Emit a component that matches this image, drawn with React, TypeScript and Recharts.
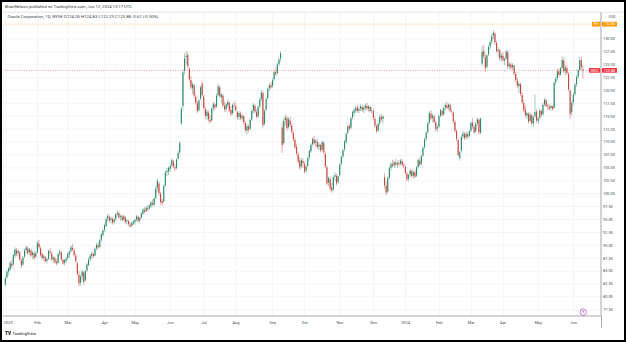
import { ComposedChart, Bar, XAxis, YAxis, CartesianGrid, ReferenceLine, ReferenceDot } from 'recharts'

// daily candles, [open, high, low, close], one array per month
const jan23 = [
  [82.4, 84.0, 82.1, 83.6], [83.8, 85.2, 83.5, 84.9], [84.9, 85.8, 84.2, 85.5], [85.3, 86.9, 85.0, 86.6],
  [86.4, 87.2, 85.6, 86.0], [86.3, 88.4, 86.1, 88.1], [88.0, 89.6, 87.6, 89.2], [89.0, 89.5, 87.9, 88.3],
  [88.5, 89.3, 87.8, 88.9], [88.6, 88.9, 86.9, 87.2], [87.0, 87.4, 85.6, 86.1], [86.3, 87.9, 86.0, 87.6],
  [87.8, 89.4, 87.5, 89.0], [89.1, 89.9, 88.4, 89.6], [89.4, 89.8, 88.2, 88.5], [88.7, 89.5, 88.1, 89.2],
  [89.0, 89.3, 87.7, 88.0], [88.1, 88.9, 87.3, 88.6], [88.4, 88.8, 87.2, 87.6], [87.8, 88.9, 87.5, 88.5],
]
const feb23 = [
  [88.6, 90.8, 88.4, 90.5], [90.3, 91.0, 89.2, 89.6], [89.4, 89.8, 87.8, 88.1], [88.3, 88.6, 87.2, 87.5],
  [87.6, 88.2, 86.9, 87.9], [87.7, 88.0, 86.6, 86.9], [87.0, 87.6, 86.5, 87.3], [87.4, 89.2, 87.1, 88.9],
  [88.8, 89.5, 88.2, 88.6], [88.4, 88.8, 87.0, 87.2], [87.3, 87.9, 86.6, 87.6], [87.5, 87.8, 86.4, 86.7],
  [86.8, 87.3, 86.1, 86.5], [86.6, 88.6, 86.4, 88.3], [88.4, 89.2, 87.9, 88.8], [88.6, 88.9, 87.0, 87.3],
  [87.2, 87.5, 86.2, 86.5], [86.6, 87.4, 86.1, 87.1], [87.0, 87.8, 86.5, 87.4],
]
const mar23 = [
  [87.5, 88.6, 87.2, 88.3], [88.2, 89.0, 87.6, 88.8], [88.9, 90.0, 88.5, 89.6], [89.5, 90.3, 88.9, 89.2],
  [89.0, 89.4, 87.8, 88.1], [88.0, 88.4, 86.6, 86.9], [86.5, 86.8, 84.1, 84.5], [84.3, 85.0, 82.0, 82.6],
  [82.8, 84.3, 82.2, 83.9], [84.0, 85.3, 83.3, 84.9], [84.7, 85.0, 82.4, 82.9], [83.2, 85.2, 83.0, 85.0],
  [85.1, 86.6, 84.8, 86.3], [86.2, 87.6, 85.9, 87.2], [87.3, 88.3, 86.9, 88.0], [87.9, 88.8, 87.4, 88.4],
  [88.3, 88.6, 87.5, 87.9], [88.0, 89.6, 87.8, 89.3], [89.4, 90.4, 89.0, 90.1], [90.0, 90.6, 89.2, 89.6],
  [89.7, 91.3, 89.5, 91.0], [91.1, 92.4, 90.7, 92.1], [92.0, 93.1, 91.6, 92.9],
]
const apr23 = [
  [93.0, 94.2, 92.6, 93.9], [93.8, 95.4, 93.5, 95.1], [95.2, 96.1, 94.6, 95.7], [95.5, 95.9, 94.4, 94.8],
  [94.9, 95.6, 94.3, 95.2], [95.1, 95.5, 94.0, 94.4], [94.5, 95.3, 94.1, 95.0], [95.1, 96.2, 94.8, 96.0],
  [96.0, 96.8, 95.5, 96.3], [96.2, 96.5, 95.1, 95.4], [95.5, 96.0, 94.8, 95.7], [95.6, 95.9, 94.6, 94.9],
  [95.0, 95.9, 94.7, 95.6], [95.4, 95.7, 94.2, 94.5], [94.6, 95.1, 94.0, 94.8], [94.7, 95.0, 93.8, 94.1],
  [94.0, 94.5, 93.4, 93.7], [93.8, 94.6, 93.5, 94.3], [94.2, 94.9, 93.9, 94.6],
]
const may23 = [
  [94.5, 95.2, 94.0, 94.9], [95.0, 95.9, 94.6, 95.6], [95.5, 95.8, 94.4, 94.7], [94.8, 95.5, 94.3, 95.3],
  [95.4, 96.4, 95.1, 96.2], [96.1, 97.2, 95.9, 96.9], [96.8, 97.3, 96.2, 96.5], [96.6, 97.6, 96.4, 97.3],
  [97.2, 97.8, 96.6, 97.0], [97.1, 98.0, 96.8, 97.7], [97.6, 98.6, 97.2, 98.3], [98.2, 98.9, 97.5, 97.9],
  [97.8, 99.4, 97.6, 99.1], [99.2, 101.4, 98.9, 101.0], [101.2, 103.0, 100.4, 102.5], [102.0, 102.3, 99.6, 100.1],
  [100.0, 100.4, 97.9, 98.4], [98.6, 99.0, 97.6, 98.2], [98.5, 101.8, 98.3, 101.5], [101.6, 104.5, 101.3, 104.1],
  [104.2, 105.0, 103.4, 104.4], [104.3, 105.2, 103.6, 105.0],
]
const jun23 = [
  [104.8, 105.9, 104.2, 105.4], [105.6, 106.8, 105.1, 106.5], [106.2, 106.6, 104.9, 105.3], [105.1, 105.7, 104.3, 104.9],
  [105.0, 106.9, 104.7, 106.6], [106.8, 108.3, 106.4, 107.9], [108.0, 110.2, 107.6, 109.8], [113.6, 116.9, 113.2, 116.4],
  [117.0, 124.0, 116.3, 123.5], [123.8, 127.2, 123.1, 126.2], [126.5, 127.6, 125.0, 126.7], [126.9, 127.4, 124.3, 124.7],
  [124.2, 124.5, 121.6, 122.1], [122.0, 122.8, 120.2, 120.6], [120.4, 121.6, 119.3, 121.2], [121.0, 121.3, 118.6, 119.0],
  [118.8, 119.4, 117.2, 117.6], [117.5, 118.1, 115.6, 116.0], [116.2, 118.4, 115.9, 118.0], [118.4, 120.9, 118.1, 120.6],
  [121.3, 121.8, 118.8, 119.1],
]
const jul23 = [
  [118.8, 119.2, 116.3, 116.6], [116.4, 116.9, 114.6, 115.1], [115.0, 116.3, 114.2, 115.9], [115.7, 116.1, 113.9, 114.4],
  [114.3, 115.2, 113.5, 114.0], [114.2, 116.8, 114.0, 116.5], [116.6, 117.8, 116.0, 117.4], [117.3, 117.6, 116.2, 116.7],
  [116.9, 119.4, 116.6, 119.0], [119.1, 121.3, 118.8, 120.8], [120.6, 121.0, 118.5, 118.9], [118.7, 119.5, 117.6, 119.2],
  [119.0, 119.3, 116.8, 117.1], [117.0, 117.9, 115.9, 116.3], [116.4, 117.6, 115.8, 117.3], [117.2, 118.2, 116.7, 117.8],
  [117.6, 117.9, 115.8, 116.1], [116.2, 117.0, 115.0, 115.4], [115.6, 117.5, 115.3, 117.2], [117.1, 118.0, 116.5, 117.0],
]
const aug23 = [
  [116.9, 117.6, 115.9, 116.2], [115.8, 116.1, 114.4, 114.8], [114.9, 116.0, 114.3, 115.6], [115.5, 115.9, 114.2, 114.6],
  [114.6, 115.4, 114.0, 115.1], [115.0, 115.3, 113.4, 113.8], [113.7, 114.1, 111.8, 112.3], [112.2, 113.5, 111.4, 113.1],
  [113.0, 113.4, 111.9, 112.4], [112.6, 114.6, 112.3, 114.3], [114.4, 116.3, 114.1, 116.0], [116.1, 117.6, 115.6, 117.2],
  [117.0, 117.3, 115.5, 115.9], [115.8, 116.4, 114.6, 114.9], [115.0, 117.1, 114.7, 116.8], [116.9, 118.6, 116.5, 118.2],
  [118.3, 120.1, 117.9, 119.6], [119.5, 119.9, 112.8, 113.3], [113.6, 116.4, 113.2, 116.0], [116.3, 118.7, 116.0, 118.3],
  [118.5, 120.6, 118.2, 120.3], [120.4, 121.4, 119.9, 121.0], [121.0, 121.7, 120.3, 120.6],
]
const sep23 = [
  [120.9, 122.4, 120.5, 122.0], [122.2, 123.9, 121.9, 123.5], [123.6, 124.4, 122.8, 123.2], [123.4, 125.4, 123.1, 125.0],
  [125.1, 126.4, 124.7, 126.0], [126.2, 127.6, 125.6, 127.2], [112.8, 113.8, 107.9, 109.4], [109.8, 114.6, 109.5, 114.1],
  [114.3, 115.3, 113.1, 114.8], [114.6, 115.1, 112.2, 112.7], [112.9, 114.8, 112.6, 114.4], [114.2, 114.9, 112.9, 113.3],
  [113.2, 113.6, 111.6, 112.0], [111.8, 112.2, 110.1, 110.5], [110.4, 110.9, 108.6, 109.0], [109.1, 109.7, 107.4, 107.8],
  [107.6, 108.1, 105.8, 106.2], [106.4, 107.1, 104.6, 105.1], [105.3, 106.9, 104.9, 106.5], [106.3, 106.8, 105.0, 105.9],
]
const oct23 = [
  [105.7, 106.2, 103.9, 104.3], [104.5, 105.6, 104.0, 105.2], [105.4, 107.2, 105.1, 106.9], [107.0, 108.6, 106.6, 108.3],
  [108.2, 109.8, 107.9, 109.5], [109.6, 110.9, 109.2, 110.6], [110.5, 111.2, 109.4, 109.8], [109.9, 110.6, 109.0, 110.2],
  [110.0, 110.4, 108.6, 109.0], [109.1, 109.9, 108.3, 109.5], [109.4, 109.7, 108.0, 108.4], [108.5, 110.3, 108.2, 110.0],
  [109.8, 110.2, 107.6, 108.0], [107.7, 108.0, 104.9, 105.3], [105.1, 105.5, 101.6, 102.0], [102.2, 103.4, 101.5, 103.0],
  [102.8, 103.2, 100.6, 101.0], [101.2, 102.1, 100.2, 100.6], [100.8, 103.5, 100.5, 103.2], [103.3, 104.1, 102.5, 103.6],
  [103.4, 103.9, 101.6, 102.0], [102.3, 103.6, 101.9, 103.4],
]
const nov23 = [
  [103.6, 105.9, 103.4, 105.6], [105.8, 107.4, 105.5, 107.1], [107.2, 108.7, 106.9, 108.4], [108.6, 110.4, 108.2, 110.1],
  [110.0, 111.9, 109.7, 111.6], [111.8, 113.3, 111.5, 113.0], [113.1, 113.6, 112.2, 112.6], [112.8, 114.9, 112.5, 114.6],
  [114.8, 116.1, 114.4, 115.8], [115.7, 116.5, 115.0, 116.2], [116.1, 117.0, 115.6, 116.6], [116.7, 117.1, 115.7, 116.0],
  [116.1, 116.8, 115.5, 116.4], [116.5, 117.3, 116.0, 116.9], [116.8, 117.2, 115.9, 116.2], [116.3, 116.9, 115.6, 116.7],
  [116.6, 117.4, 116.1, 117.1], [117.0, 117.6, 116.2, 116.5], [116.4, 117.2, 115.9, 116.9], [116.8, 117.1, 115.7, 116.0],
  [116.1, 116.9, 115.6, 116.2],
]
const dec23 = [
  [116.0, 116.4, 114.3, 114.7], [114.5, 114.9, 112.8, 113.2], [113.1, 113.5, 111.7, 112.1], [112.3, 113.8, 112.0, 113.5],
  [113.6, 115.3, 113.2, 114.9], [114.8, 115.5, 114.0, 114.4], [114.5, 115.2, 113.6, 115.0], [103.2, 104.0, 101.0, 101.6],
  [101.5, 102.3, 99.6, 100.2], [100.4, 103.4, 100.1, 103.0], [103.1, 105.3, 102.8, 104.9], [105.0, 106.1, 104.4, 105.8],
  [105.7, 106.6, 105.1, 105.4], [105.5, 106.4, 105.0, 106.1], [106.0, 106.7, 105.2, 105.6], [105.7, 106.3, 105.0, 106.0],
  [105.9, 106.5, 105.3, 105.7], [105.8, 106.8, 105.5, 106.4], [106.3, 106.7, 105.2, 105.6], [105.6, 106.0, 104.9, 105.4],
]
const jan24 = [
  [105.2, 105.5, 103.6, 104.0], [103.9, 104.3, 102.4, 102.8], [102.9, 103.9, 102.3, 103.6], [103.7, 104.8, 103.3, 104.5],
  [104.4, 104.7, 103.1, 103.4], [103.5, 104.5, 102.9, 104.2], [104.1, 104.6, 103.0, 103.3], [103.5, 105.4, 103.2, 105.1],
  [105.2, 106.8, 104.9, 106.5], [106.4, 106.9, 105.2, 105.6], [105.8, 107.6, 105.5, 107.3], [107.4, 109.2, 107.1, 108.9],
  [109.0, 110.8, 108.6, 110.5], [110.6, 112.1, 110.2, 111.8], [111.9, 114.0, 111.6, 113.6], [113.7, 116.0, 113.4, 115.6],
  [115.5, 116.2, 114.2, 114.6], [114.7, 115.5, 113.8, 115.1], [115.0, 115.3, 113.6, 113.9], [113.8, 114.2, 112.1, 112.5],
  [112.6, 113.4, 111.9, 112.9],
]
const feb24 = [
  [113.0, 115.3, 112.7, 115.0], [115.1, 116.5, 114.8, 116.2], [116.0, 116.4, 114.9, 115.3], [115.4, 116.9, 115.1, 116.6],
  [116.7, 117.6, 116.1, 117.2], [117.1, 117.8, 116.3, 116.6], [116.7, 117.5, 116.2, 117.3], [117.2, 117.4, 115.8, 116.1],
  [116.0, 116.5, 115.3, 115.9], [115.7, 115.9, 113.6, 114.0], [113.9, 114.2, 111.8, 112.2], [112.1, 112.5, 110.2, 110.6],
  [110.4, 110.7, 107.2, 107.5], [106.9, 108.3, 106.4, 108.0], [108.3, 111.4, 108.1, 111.0], [111.1, 112.2, 110.6, 111.7],
  [111.6, 112.0, 110.4, 110.8], [110.9, 112.0, 110.5, 111.6], [111.5, 111.9, 110.6, 111.1], [111.2, 112.4, 110.9, 112.1],
]
const mar24 = [
  [112.2, 114.0, 111.9, 113.7], [113.8, 114.6, 112.6, 113.0], [112.9, 113.3, 111.5, 111.9], [112.1, 113.9, 111.8, 113.6],
  [113.7, 114.7, 113.2, 114.4], [114.3, 114.6, 111.4, 111.9], [111.8, 114.8, 111.5, 114.5], [125.2, 128.6, 124.8, 127.5],
  [127.6, 128.9, 126.2, 126.6], [126.4, 126.9, 123.6, 124.4], [124.6, 127.1, 124.2, 126.8], [127.0, 128.8, 126.6, 128.4],
  [128.5, 129.8, 128.0, 129.4], [129.5, 130.9, 129.0, 130.5], [130.6, 131.7, 130.0, 131.2], [131.0, 131.3, 128.9, 129.3],
  [129.2, 129.6, 127.3, 127.6], [127.7, 128.4, 126.5, 127.9], [127.8, 128.0, 125.8, 126.2], [126.3, 127.2, 125.6, 126.8],
]
const apr24 = [
  [126.7, 127.4, 125.5, 125.9], [125.8, 126.4, 124.9, 126.1], [126.2, 127.9, 125.9, 127.5], [127.4, 127.8, 124.2, 124.6],
  [124.7, 125.5, 124.1, 125.1], [125.0, 125.4, 124.0, 124.4], [124.5, 125.3, 123.9, 124.9], [124.8, 125.0, 122.9, 123.3],
  [123.2, 123.6, 121.6, 122.0], [121.9, 122.5, 120.4, 120.9], [120.8, 121.7, 119.5, 121.3], [121.2, 121.5, 118.9, 119.3],
  [119.1, 119.6, 117.3, 117.7], [117.6, 118.2, 115.8, 116.2], [116.3, 117.1, 114.8, 115.2], [115.1, 115.9, 114.4, 115.6],
  [115.5, 115.8, 113.6, 114.0], [114.1, 115.7, 113.8, 115.3], [115.2, 115.5, 113.2, 113.6], [113.6, 115.1, 112.9, 114.8],
  [115.0, 119.2, 114.7, 115.8], [115.9, 116.3, 113.7, 114.2],
]
const may24 = [
  [114.1, 114.9, 113.5, 114.6], [114.7, 116.4, 114.4, 116.1], [116.0, 116.3, 114.9, 115.3], [115.4, 117.6, 115.1, 117.2],
  [117.3, 118.6, 116.9, 118.2], [118.1, 118.4, 116.7, 117.0], [117.1, 117.5, 116.2, 116.9], [116.8, 117.3, 116.1, 116.5],
  [116.6, 117.2, 116.2, 117.0], [116.9, 117.1, 116.1, 116.4], [116.6, 121.8, 116.4, 121.5], [121.6, 122.6, 121.1, 122.3],
  [122.4, 124.2, 122.0, 123.8], [123.7, 124.3, 122.6, 123.0], [123.1, 124.6, 122.8, 124.3], [124.4, 126.6, 124.1, 125.9],
  [125.8, 126.4, 123.3, 123.7], [123.8, 124.8, 122.9, 124.4], [124.3, 124.9, 123.0, 123.4], [123.2, 123.6, 119.8, 120.2],
  [119.9, 120.3, 114.6, 115.4], [115.8, 118.0, 115.1, 117.6],
]
const jun24 = [
  [117.7, 119.6, 117.2, 119.2], [119.3, 121.5, 118.9, 121.1], [121.2, 123.0, 120.7, 122.6], [122.7, 124.2, 122.3, 123.9],
  [124.0, 126.4, 123.6, 125.9], [125.8, 126.5, 124.0, 124.5], [124.05, 124.83, 122.29, 123.88],
]

const months = [jan23, feb23, mar23, apr23, may23, jun23, jul23, aug23, sep23, oct23, nov23, dec23, jan24, feb24, mar24, apr24, may24, jun24]
const monthLabels = ['2023', 'Feb', 'Mar', 'Apr', 'May', 'Jun', 'Jul', 'Aug', 'Sep', 'Oct', 'Nov', 'Dec', '2024', 'Feb', 'Mar', 'Apr', 'May', 'Jun']
const yTicks = [77.5, 80, 82.5, 85, 87.5, 90, 92.5, 95, 97.5, 100, 102.5, 105, 107.5, 110, 112.5, 115, 117.5, 120, 122.5, 125, 127.5, 130]

const lastPrice = 123.88
const prePrice = 132.85

const rows = months.flat().map(([o, h, l, c], i) => ({ i, o, h, l, c }))
const monthStarts: number[] = []
months.reduce((start, m) => {
  monthStarts.push(start)
  return start + m.length
}, 0)
const tickLabel: Record<number, string> = {}
monthStarts.forEach((s, k) => (tickLabel[s] = monthLabels[k]))

const FONT = 'Roboto, "Liberation Sans", sans-serif'
const UP = '#2a8a6c'
const DOWN = '#c9463f'
const GRID = '#eceef1'
const AXIS = '#a9acb4'
const TEXT = '#4a4d55'

function Candle(props: any) {
  const { x, y, width, height } = props
  const d = props.payload ?? props
  const color = d.c >= d.o ? UP : DOWN
  const top = Math.min(y, y + height)
  const span = Math.abs(height)
  const toY = (p: number) => (d.h === d.l ? top : top + ((d.h - p) / (d.h - d.l)) * span)
  const bodyTop = toY(Math.max(d.o, d.c))
  const bodyBot = toY(Math.min(d.o, d.c))
  const cx = x + width / 2
  return (
    <g>
      <line x1={cx} x2={cx} y1={top} y2={top + span} stroke={color} strokeWidth={0.45} />
      <rect x={x} y={bodyTop} width={width} height={Math.max(bodyBot - bodyTop, 0.4)} fill={color} />
    </g>
  )
}

// month labels; the first one is anchored at its left so it stays inside the pane
function MonthTick({ x, y, payload, index }: any) {
  const first = index === 0
  return (
    <text
      x={first ? x - 1.8 : x}
      y={y}
      dy="0.71em"
      fontSize={4}
      fill={TEXT}
      fontFamily={FONT}
      textAnchor={first ? 'start' : 'middle'}
    >
      {tickLabel[payload.value] ?? ''}
    </text>
  )
}

function PriceTag({ viewBox, name, value, color, nameWidth }: any) {
  if (!viewBox) return null
  const right = viewBox.x + viewBox.width
  const cy = viewBox.y
  return (
    <g fontFamily={FONT}>
      <rect x={right - nameWidth} y={cy - 2.4} width={nameWidth - 0.6} height={4.8} fill={color} rx={0.5} />
      <text x={right - nameWidth / 2 - 0.3} y={cy} dy="0.35em" fontSize={3.3} fill="#fff" textAnchor="middle">{name}</text>
      <rect x={right + 1} y={cy - 2.4} width={15} height={4.8} fill={color} rx={0.5} />
      <text x={right + 8.5} y={cy} dy="0.35em" fontSize={3.5} fill="#fff" textAnchor="middle">{value.toFixed(2)}</text>
    </g>
  )
}

function EarningsMark({ cx, cy }: any) {
  return (
    <g>
      <circle cx={cx} cy={cy} r={3.2} fill="#fff" stroke="#9c27b0" strokeWidth={0.6} />
      <text x={cx} y={cy} dy="0.36em" fontSize={3.6} fill="#9c27b0" textAnchor="middle" fontFamily={FONT}>E</text>
    </g>
  )
}

export default function App() {
  return (
    <div style={{ position: 'absolute', left: 0, top: 0, width: 626, height: 342, background: '#fff', overflow: 'hidden' }}>
      <div style={{ position: 'absolute', left: 3, top: 0, width: 623, height: 342, overflow: 'hidden' }}>
        <ComposedChart width={623} height={342} data={rows} margin={{ top: 12, right: 3, bottom: 12, left: 0 }}>
          <CartesianGrid stroke={GRID} strokeWidth={0.6} />
          <XAxis
            dataKey="i"
            type="category"
            ticks={monthStarts}
            interval={0}
            padding={{ left: 1.8, right: 17 }}
            height={14}
            tickLine={false}
            tickSize={0}
            tickMargin={5}
            axisLine={{ stroke: AXIS, strokeWidth: 1 }}
            tick={(p: any) => <MonthTick {...p} />}
          />
          <YAxis
            orientation="right"
            domain={[76.3, 135.2]}
            ticks={yTicks}
            interval={0}
            allowDataOverflow
            width={22}
            tickLine={false}
            tickSize={0}
            tickMargin={2}
            axisLine={{ stroke: AXIS, strokeWidth: 1 }}
            tickFormatter={(v) => v.toFixed(2)}
            tick={{ fontSize: 3.9, fill: TEXT, fontFamily: FONT, textAnchor: 'start' }}
          />
          <ReferenceLine
            y={prePrice}
            stroke="#f7b54a"
            strokeWidth={0.6}
            strokeDasharray="1 1"
            label={{ content: (p: any) => <PriceTag viewBox={p.viewBox} name="Pre" value={prePrice} color="#ff9800" nameWidth={9} /> }}
          />
          <ReferenceLine
            y={lastPrice}
            stroke="#f23645"
            strokeWidth={0.5}
            strokeDasharray="1 1.4"
            label={{ content: (p: any) => <PriceTag viewBox={p.viewBox} name="ORCL" value={lastPrice} color="#f23645" nameWidth={12} /> }}
          />
          <Bar dataKey={(r: any) => [r.l, r.h]} barSize={1.1} shape={<Candle />} isAnimationActive={false} />
          <ReferenceDot x={361} y={77.05} r={3.2} shape={(p: any) => <EarningsMark {...p} />} />
        </ComposedChart>
      </div>
      <svg width={626} height={342} style={{ position: 'absolute', left: 0, top: 0, pointerEvents: 'none' }} fontFamily={FONT}>
        <text x={5} y={7.6} fontSize={4.2} fill="#3a3a3a">BrianNelson published on TradingView.com, Jun 12, 2024 13:17 UTC</text>
        <line x1={3} x2={624} y1={12.2} y2={12.2} stroke="#d9dbe0" strokeWidth={0.6} />
        <text x={7.5} y={17.5} fontSize={4.3} fill="#3f4249">
          Oracle Corporation, 1D, NYSE{'  '}O124.05 H124.83 L122.29 C123.88 -0.62 (-0.50%)
        </text>
        <text x={612} y={18} fontSize={3.6} fill={TEXT} textAnchor="middle">USD</text>
        <line x1={601.5} x2={601.5} y1={316} y2={328} stroke={AXIS} strokeWidth={1} />
        <text x={5} y={335} fontSize={4.6} fontWeight={900} fill="#131722">TV</text>
        <text x={12.5} y={335} fontSize={4.3} fill="#131722">TradingView</text>
        <rect x={1} y={1} width={624} height={340} fill="none" stroke="#000" strokeWidth={2} />
      </svg>
    </div>
  )
}
